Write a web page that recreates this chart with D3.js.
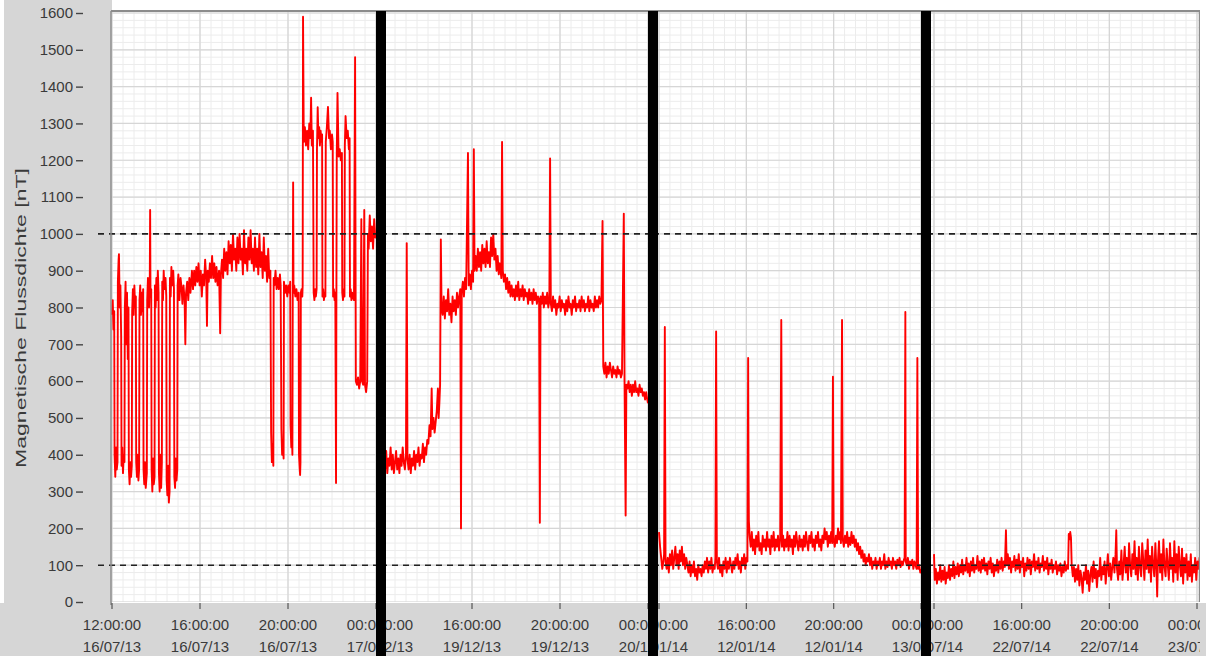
<!DOCTYPE html>
<html><head><meta charset="utf-8">
<script src="https://cdn.jsdelivr.net/npm/d3@7"></script>
<style>html,body{margin:0;padding:0;background:#fff;}svg{display:block;}text{font-family:"Liberation Sans",Arial,sans-serif;fill:#3a3a3a;}</style>
</head><body><svg id="c" width="1206" height="656"></svg>
<script>
// ---- data (minutes after 12:00 of each day, value in nT) ----
const panelDays = ["2013-07-16", "2013-12-19", "2014-01-12", "2014-07-22"];
const yTicks = [0,100,200,300,400,500,600,700,800,900,1000,1100,1200,1300,1400,1500,1600];
const limitLines = [100, 1000];
const yLabel = "Magnetische Flussdichte [nT]";

const series1 = [[0,780],[2,820],[4,740],[6,790],[7,400],[9,340],[11,420],[13,360],[15,380],[16,870],[18,930],[19,945],[21,800],[23,860],[25,720],[26,370],[28,420],[30,350],[32,400],[34,380],[35,800],[37,870],[39,700],[41,840],[43,660],[45,800],[46,360],[48,320],[50,380],[52,340],[54,370],[55,790],[57,850],[59,780],[61,860],[63,800],[65,830],[66,380],[68,340],[70,400],[72,330],[74,360],[75,820],[77,860],[79,780],[81,840],[83,790],[85,850],[86,360],[88,320],[90,380],[92,310],[95,350],[96,820],[98,880],[101,800],[103,870],[104,1065],[105,830],[107,850],[108,360],[110,300],[112,390],[114,320],[116,340],[117,860],[119,800],[121,880],[123,820],[125,900],[127,840],[128,350],[130,300],[132,400],[134,310],[136,380],[137,870],[139,820],[141,900],[143,850],[146,880],[148,830],[149,330],[151,290],[153,370],[155,270],[157,300],[158,880],[160,830],[162,910],[164,860],[167,900],[169,850],[170,340],[172,310],[174,390],[176,330],[178,360],[179,860],[181,890],[184,820],[187,880],[190,850],[192,810],[195,860],[198,820],[200,700],[202,840],[205,870],[208,820],[211,880],[214,840],[218,900],[221,850],[224,900],[227,860],[230,910],[233,870],[236,920],[239,860],[242,900],[245,830],[248,890],[251,860],[254,930],[257,880],[259,750],[261,900],[264,870],[267,920],[270,880],[273,940],[276,880],[279,920],[282,870],[285,910],[288,860],[292,900],[295,730],[297,890],[300,930],[303,880],[306,960],[309,900],[312,950],[315,890],[318,980],[321,920],[324,970],[327,900],[330,1000],[333,930],[336,960],[339,900],[342,990],[345,920],[348,1000],[351,930],[354,960],[357,890],[360,1010],[363,920],[366,960],[369,900],[372,990],[375,930],[378,1010],[381,920],[384,960],[387,900],[390,990],[393,910],[396,960],[399,890],[402,1000],[405,910],[408,950],[411,880],[414,990],[417,900],[420,940],[423,870],[426,960],[429,880],[432,900],[434,460],[436,380],[438,430],[440,370],[441,880],[443,860],[446,900],[449,850],[452,880],[455,850],[458,890],[460,860],[462,470],[464,400],[466,440],[468,390],[469,870],[472,840],[475,860],[478,830],[481,860],[484,840],[486,870],[487,480],[489,420],[491,450],[492,400],[493,850],[494,1140],[495,840],[497,860],[500,830],[503,850],[506,820],[509,840],[510,400],[512,360],[513,345],[514,380],[515,840],[517,850],[519,830],[520,860],[521,1590],[523,1250],[526,1290],[529,1240],[532,1280],[535,1230],[538,1300],[541,1260],[543,1370],[545,1240],[548,1280],[550,840],[552,820],[554,850],[556,830],[558,850],[559,1230],[561,1344],[563,1260],[565,1290],[567,1240],[569,1280],[571,1250],[573,1270],[574,830],[576,850],[578,820],[580,840],[582,830],[583,1250],[586,1290],[589,1345],[592,1260],[594,1280],[597,1230],[600,1270],[602,1250],[603,830],[605,850],[607,820],[609,840],[611,323],[612,830],[613,1220],[615,1383],[618,1210],[621,1230],[624,1200],[627,1220],[628,840],[630,820],[632,850],[634,830],[635,1240],[637,1320],[640,1260],[643,1280],[646,1230],[648,1260],[649,830],[651,850],[653,820],[655,840],[657,830],[660,820],[663,1480],[665,600],[668,590],[671,610],[674,580],[677,600],[680,1040],[682,600],[685,590],[688,1065],[690,590],[693,570],[696,600],[698,1000],[700,960],[703,1050],[706,980],[709,1020],[712,960],[715,1040],[718,990],[722,1000]];

const series2 = [[0,380],[3,360],[6,410],[9,350],[12,390],[15,370],[18,420],[21,360],[24,400],[27,350],[30,380],[33,410],[36,360],[39,390],[42,350],[45,400],[48,370],[51,420],[54,380],[57,360],[60,400],[62,975],[64,390],[67,360],[70,400],[73,350],[76,390],[79,370],[82,410],[85,360],[88,400],[91,380],[94,420],[97,370],[100,400],[103,390],[106,430],[109,380],[112,420],[115,400],[118,440],[121,430],[124,480],[127,450],[130,580],[132,470],[135,500],[138,460],[141,490],[144,520],[147,580],[149,500],[151,540],[153,590],[155,985],[157,800],[160,780],[163,830],[166,770],[169,820],[172,790],[175,850],[178,780],[181,810],[184,760],[187,830],[190,790],[193,820],[196,780],[199,840],[202,800],[205,830],[208,850],[210,200],[212,840],[215,870],[218,830],[221,880],[224,850],[229,1220],[231,860],[234,890],[237,850],[240,900],[243,870],[245,1230],[247,900],[250,940],[253,900],[256,960],[259,910],[262,950],[265,900],[268,970],[271,920],[274,960],[277,910],[280,980],[283,920],[286,950],[289,910],[292,990],[295,940],[298,1000],[301,930],[304,960],[307,900],[310,940],[313,890],[316,920],[320,880],[322,1250],[324,900],[327,870],[330,890],[333,850],[336,880],[339,840],[342,870],[345,830],[348,860],[351,830],[354,850],[357,820],[360,860],[363,830],[366,870],[369,820],[372,850],[375,830],[378,860],[381,820],[384,850],[387,830],[390,840],[393,810],[396,850],[399,820],[402,840],[405,810],[408,850],[411,820],[414,840],[417,810],[420,830],[423,820],[425,215],[427,830],[430,810],[433,840],[436,800],[439,830],[442,810],[445,840],[448,800],[451,820],[453,1205],[455,810],[458,790],[461,830],[464,800],[467,820],[470,780],[473,810],[476,800],[479,830],[482,790],[485,820],[488,800],[491,810],[494,780],[497,820],[500,790],[503,830],[506,800],[509,810],[512,780],[515,820],[518,800],[521,830],[524,790],[527,810],[530,800],[533,820],[536,790],[539,830],[542,800],[545,820],[548,790],[551,810],[554,800],[557,830],[560,790],[563,820],[566,800],[569,810],[572,790],[575,830],[578,800],[581,820],[584,800],[587,830],[590,810],[593,820],[596,1035],[598,640],[601,620],[604,650],[607,610],[610,640],[613,620],[616,650],[619,630],[622,610],[625,640],[628,620],[631,630],[634,610],[637,640],[640,620],[643,630],[646,610],[649,620],[654,1055],[656,600],[659,235],[661,590],[664,580],[667,600],[670,570],[673,590],[676,560],[679,590],[682,570],[685,600],[688,570],[691,580],[694,560],[697,590],[700,570],[703,580],[706,560],[709,570],[712,550],[715,570],[718,550],[720,540]];

const series3 = [[0,190],[3,150],[6,120],[9,90],[12,110],[14,130],[16,747],[17,430],[18,110],[21,90],[24,120],[27,80],[30,130],[33,100],[36,140],[39,90],[42,120],[45,150],[48,100],[51,130],[54,90],[57,140],[60,110],[63,150],[66,100],[69,130],[72,90],[75,120],[78,100],[81,80],[84,110],[87,70],[90,100],[93,80],[96,110],[99,70],[102,90],[105,60],[108,100],[111,80],[114,90],[117,70],[120,100],[123,80],[126,110],[129,90],[132,120],[135,80],[138,110],[141,90],[144,120],[147,80],[150,100],[153,90],[155,120],[157,735],[158,405],[159,110],[162,90],[165,120],[168,80],[171,100],[174,70],[177,110],[180,90],[183,120],[186,80],[189,110],[192,90],[195,120],[198,100],[201,80],[204,110],[207,90],[210,120],[213,100],[216,130],[219,90],[222,110],[225,80],[228,120],[231,100],[234,130],[237,90],[240,120],[243,110],[245,663],[246,367],[247,220],[249,180],[252,150],[255,190],[258,140],[261,170],[264,130],[267,180],[270,150],[273,190],[276,140],[279,160],[282,130],[285,180],[288,150],[291,170],[294,140],[297,190],[300,150],[303,170],[306,130],[309,180],[312,150],[315,190],[318,140],[321,170],[324,150],[327,180],[330,140],[333,170],[336,766],[337,522],[338,150],[341,180],[344,140],[347,170],[350,150],[353,190],[356,140],[359,180],[362,150],[365,170],[368,130],[371,180],[374,150],[377,190],[380,160],[383,140],[386,180],[389,150],[392,170],[395,140],[398,180],[401,150],[404,190],[407,160],[410,140],[413,180],[416,160],[419,190],[422,150],[425,170],[428,140],[431,180],[434,160],[437,190],[440,150],[443,170],[446,140],[449,180],[452,160],[455,200],[458,170],[461,190],[464,150],[467,180],[470,160],[473,190],[476,160],[478,612],[479,372],[480,170],[483,150],[486,180],[489,160],[492,200],[495,170],[498,190],[500,160],[503,766],[504,473],[505,170],[508,150],[511,180],[514,160],[517,190],[520,150],[523,175],[526,155],[529,190],[532,160],[535,180],[538,150],[541,170],[544,140],[547,160],[550,130],[553,150],[556,120],[559,140],[562,110],[565,130],[568,100],[571,120],[574,110],[577,130],[580,100],[583,120],[586,90],[589,110],[592,100],[595,120],[598,90],[601,110],[604,100],[607,120],[610,90],[613,110],[616,100],[619,130],[622,90],[625,110],[628,95],[631,120],[634,100],[637,110],[640,90],[643,120],[646,100],[649,110],[652,90],[655,115],[658,100],[661,120],[664,95],[667,110],[670,100],[673,115],[675,120],[677,788],[678,110],[681,100],[684,120],[687,90],[690,110],[693,100],[696,115],[699,90],[702,110],[705,100],[708,90],[710,663],[711,380],[712,90],[715,100],[718,80],[720,90]];

const series4 = [[0,130],[2,60],[5,90],[8,50],[11,80],[14,60],[17,100],[20,55],[23,85],[26,60],[29,95],[32,50],[35,80],[38,65],[41,100],[44,60],[47,90],[50,70],[53,110],[56,65],[59,95],[62,75],[65,105],[68,70],[71,100],[74,80],[77,115],[80,75],[83,100],[86,85],[89,120],[92,80],[95,105],[98,70],[101,110],[104,85],[107,120],[110,80],[113,100],[116,90],[119,125],[122,85],[125,110],[128,80],[131,115],[134,90],[137,120],[140,85],[143,105],[146,75],[149,110],[152,90],[155,120],[158,80],[161,105],[164,70],[167,100],[170,85],[173,115],[176,80],[179,110],[182,90],[185,120],[188,85],[191,110],[194,95],[197,195],[199,100],[202,130],[205,90],[208,120],[211,80],[214,110],[217,95],[220,125],[223,85],[226,115],[229,90],[232,130],[235,80],[238,110],[241,95],[244,120],[247,70],[250,105],[253,85],[256,120],[259,90],[262,115],[265,75],[268,110],[271,95],[274,130],[277,85],[280,110],[283,90],[286,120],[289,80],[292,105],[295,95],[298,125],[301,85],[304,110],[307,90],[310,120],[313,75],[316,105],[319,90],[322,115],[325,80],[328,100],[331,90],[334,110],[337,75],[340,100],[343,85],[346,105],[349,70],[352,95],[355,80],[358,110],[361,85],[364,100],[367,90],[369,185],[371,170],[373,190],[375,175],[377,100],[380,70],[383,95],[386,55],[389,90],[392,60],[395,100],[398,45],[401,85],[404,65],[407,25],[410,80],[413,60],[416,100],[419,50],[422,85],[425,30],[428,75],[431,95],[434,55],[437,110],[440,65],[443,90],[446,40],[449,85],[452,70],[455,120],[458,60],[461,95],[464,75],[467,110],[470,50],[473,90],[476,130],[479,70],[482,105],[485,60],[488,95],[491,120],[494,80],[497,130],[499,195],[501,90],[504,60],[507,110],[510,75],[513,140],[516,60],[519,100],[522,150],[525,80],[528,120],[531,60],[534,160],[537,100],[540,70],[543,130],[546,90],[549,165],[552,75],[555,120],[558,60],[561,150],[564,95],[567,70],[570,160],[573,110],[576,60],[579,140],[582,90],[585,170],[588,80],[591,125],[594,55],[597,150],[600,100],[603,70],[606,160],[609,90],[611,15],[613,110],[616,165],[619,80],[622,130],[625,60],[628,170],[631,95],[634,70],[637,145],[640,100],[643,60],[646,160],[649,90],[652,120],[655,55],[658,165],[661,80],[664,130],[667,60],[670,150],[673,100],[676,70],[679,145],[682,50],[685,120],[688,80],[691,130],[694,60],[697,110],[700,70],[703,130],[706,55],[709,100],[712,80],[715,120],[718,60],[721,110],[724,90],[727,120],[730,100]];

const allSeries = [series1, series2, series3, series4];

// ---- layout ----
const W = 1206, H = 656;
const plotTop = 11, plotBottom = 602;
const x12 = [112, 384, 659, 934];     // pixel of 12:00 in each strip
const x00 = [376, 648, 921, 1197];    // pixel of 00:00 in each strip
const strips = [[0, 381], [381, 653], [653, 927], [927, 1200]];
const grey = "#d6d6d6";

const svg = d3.select("#c");
svg.append("rect").attr("width", W).attr("height", H).attr("fill", "#fff");
svg.append("rect").attr("x", 4).attr("y", 0).attr("width", 108).attr("height", H).attr("fill", grey);
svg.append("rect").attr("x", 0).attr("y", plotBottom + 1).attr("width", W).attr("height", H - plotBottom).attr("fill", grey);

const y = d3.scaleLinear().domain([0, 1600]).range([plotBottom, 13]);
const parseDay = d3.timeParse("%Y-%m-%d %H:%M");
const fTime = d3.timeFormat("%H:%M:%S"), fDate = d3.timeFormat("%d/%m/%y");
const defs = svg.append("defs");

allSeries.forEach((data, k) => {
  const base = parseDay(panelDays[k] + " 12:00");
  const end = d3.timeHour.offset(base, 12);
  const x = d3.scaleTime().domain([base, end]).range([x12[k], x00[k]]);
  const [s0, s1] = strips[k];
  const left = k === 0 ? 111 : s0;
  const tMin = x.invert(left), tMax = x.invert(s1);

  defs.append("clipPath").attr("id", "strip" + k).append("rect")
    .attr("x", s0).attr("y", 0).attr("width", s1 - s0).attr("height", H);
  defs.append("clipPath").attr("id", "plot" + k).append("rect")
    .attr("x", left).attr("y", plotTop).attr("width", s1 - left).attr("height", plotBottom - plotTop);

  const g = svg.append("g").attr("clip-path", `url(#strip${k})`);
  g.append("rect").attr("x", left).attr("y", plotTop).attr("width", s1 - left)
    .attr("height", plotBottom - plotTop).attr("fill", "#fff");

  const pg = g.append("g").attr("clip-path", `url(#plot${k})`);
  // minor grid
  pg.selectAll(".vmin").data(d3.timeMinute.every(30).range(tMin, tMax)).join("line")
    .attr("x1", d => x(d)).attr("x2", d => x(d)).attr("y1", plotTop).attr("y2", plotBottom)
    .attr("stroke", "#ececec").attr("stroke-width", 1);
  pg.selectAll(".hmin").data(d3.range(0, 1601, 20)).join("line")
    .attr("x1", left).attr("x2", s1).attr("y1", d => y(d)).attr("y2", d => y(d))
    .attr("stroke", "#ececec").attr("stroke-width", 1);
  // major grid
  pg.selectAll(".vmaj").data(d3.timeHour.every(4).range(tMin, tMax)).join("line")
    .attr("x1", d => x(d)).attr("x2", d => x(d)).attr("y1", plotTop).attr("y2", plotBottom)
    .attr("stroke", "#d4d4d4").attr("stroke-width", 1.2);
  pg.selectAll(".hmaj").data(yTicks).join("line")
    .attr("x1", left).attr("x2", s1).attr("y1", d => y(d)).attr("y2", d => y(d))
    .attr("stroke", "#d6d6d6").attr("stroke-width", 1.2);

  // data
  const line = d3.line().x(d => x(d3.timeMinute.offset(base, d[0]))).y(d => y(d[1]));
  pg.append("path").datum(data).attr("d", line).attr("fill", "none")
    .attr("stroke", "#ff0000").attr("stroke-width", 1.9).attr("stroke-linejoin", "round");

  // limit lines
  g.selectAll(".lim").data(limitLines).join("line")
    .attr("x1", k === 0 ? 98 : s0).attr("x2", s1)
    .attr("y1", d => y(d)).attr("y2", d => y(d))
    .attr("stroke", "#222").attr("stroke-width", 1.6).attr("stroke-dasharray", "6,5");

  // frame
  g.append("line").attr("x1", left).attr("x2", s1).attr("y1", plotTop).attr("y2", plotTop)
    .attr("stroke", "#8c8c8c").attr("stroke-width", 2);
  if (k === 0) g.append("line").attr("x1", 111).attr("x2", 111).attr("y1", plotTop).attr("y2", plotBottom + 3)
    .attr("stroke", "#8c8c8c").attr("stroke-width", 1.5);
  if (k === 3) g.append("line").attr("x1", 1199.5).attr("x2", 1199.5).attr("y1", plotTop).attr("y2", plotBottom)
    .attr("stroke", "#8c8c8c").attr("stroke-width", 1.5);

  // x axis ticks + two-line labels
  const ticks = d3.timeHour.every(4).range(d3.timeMinute.offset(tMin, -1), d3.timeHour.offset(tMax, 1));
  const tg = g.selectAll(".xt").data(ticks).join("g").attr("transform", d => `translate(${x(d)},0)`);
  tg.append("line").attr("y1", plotBottom + 1).attr("y2", plotBottom + 7).attr("stroke", "#555").attr("stroke-width", 1.2);
  const tt = tg.append("text").attr("text-anchor", "middle").style("font-size", "15px");
  tt.append("tspan").attr("x", 0).attr("y", 630).text(d => fTime(d));
  tt.append("tspan").attr("x", 0).attr("y", 652).text(d => fDate(d));
});

// black separators
svg.selectAll(".bar").data(x00.slice(0, 3)).join("rect")
  .attr("x", d => d).attr("y", plotTop).attr("width", 10).attr("height", H - plotTop).attr("fill", "#000");

// y axis
const ya = svg.append("g").attr("transform", "translate(83,0)")
  .call(d3.axisLeft(y).tickValues(yTicks).tickFormat(d3.format("d")).tickSize(7).tickPadding(3));
ya.select(".domain").remove();
ya.selectAll(".tick line").attr("stroke", "#444").attr("stroke-width", 1.4);
ya.selectAll(".tick text").style("font-size", "15px").attr("fill", "#3a3a3a")
  .style("font-family", "'Liberation Sans', Arial, sans-serif");

svg.append("text").attr("transform", "translate(26,318) rotate(-90)")
  .attr("text-anchor", "middle").style("font-size", "15px")
  .attr("textLength", 300).attr("lengthAdjust", "spacingAndGlyphs")
  .text(yLabel);
</script></body></html>
